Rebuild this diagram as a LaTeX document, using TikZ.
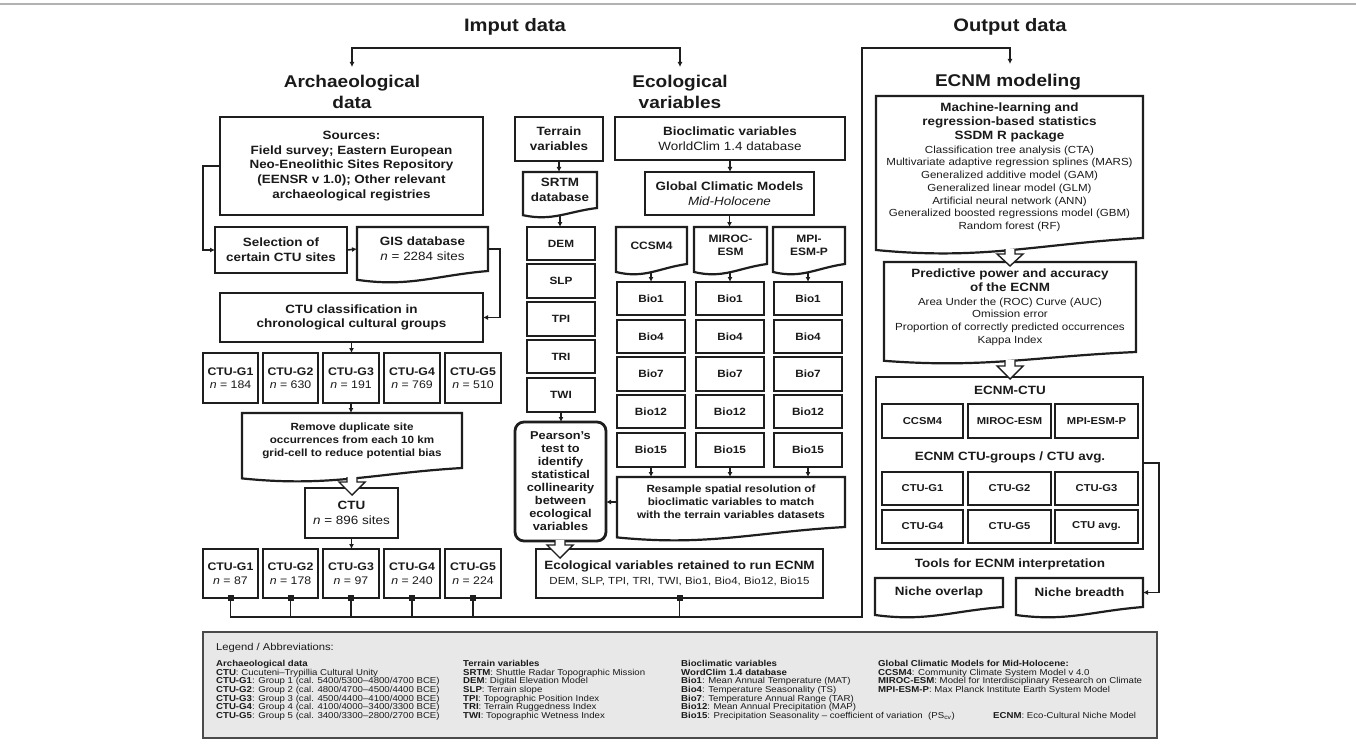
\documentclass[tikz,border=0pt]{standalone}
\usepackage{fontspec}
\setmainfont{Liberation Sans}[FakeStretch=1.12]
\usetikzlibrary{arrows.meta,calc}
\definecolor{lc}{HTML}{1E1E1E}
\definecolor{tc}{HTML}{1A1A1A}
\definecolor{legf}{HTML}{E8E8E8}
\definecolor{legb}{HTML}{4A4A4A}
\newcommand{\fttl}{\fontsize{17}{21}\selectfont\bfseries}
\newcommand{\fbig}{\fontsize{12}{14.7}\selectfont\bfseries}
\newcommand{\fszM}{\fontsize{11}{13.5}\selectfont\bfseries}
\newcommand{\fszS}{\fontsize{10.5}{12.5}\selectfont\bfseries}
\newcommand{\fszC}{\fontsize{10.7}{12.8}\selectfont\bfseries}
\newcommand{\fszI}{\fontsize{10}{12}\selectfont\bfseries}
\newcommand{\fszRem}{\fontsize{10.4}{13}\selectfont\bfseries}
\newcommand{\fszP}{\fontsize{11.4}{13}\selectfont\bfseries}
\newcommand{\fszR}{\fontsize{10.3}{12.7}\selectfont}
\newcommand{\fszL}{\fontsize{8.6}{8.7}\selectfont}
\newcommand{\bnode}[7][bx]{\node[#1, minimum width={(#4)-(#2)}, minimum height={(#5)-(#3)}] (#6) at ({((#2)+(#4))/2},{((#3)+(#5))/2}) {#7};}
\newcommand{\docshape}[2]{\draw[boxln] let \p1=(#1.north west), \p2=(#1.south east), \n1={\x2-\x1} in (\x1,\y1) -- (\x2,\y1) -- (\x2,\y2) .. controls ({\x1+0.6*\n1},{\y2-0.4*#2pt}) and ({\x1+0.4*\n1},{\y2-1.5*#2pt}) .. (\x1,{\y2-0.8*#2pt}) -- cycle;}
\newcommand{\harrow}[4]{\filldraw[line width=1.4pt, draw=lc, fill=white, line join=miter] ({#1-5},#2) -- ({#1-5},#3) -- ({#1-13},#3) -- (#1,#4) -- ({#1+13},#3) -- ({#1+5},#3) -- ({#1+5},#2);}
\tikzset{
  bx/.style={draw=lc, line width=2.2pt, inner sep=1pt, outer sep=0pt, align=center, text=tc, font=\fbig},
  dc/.style={inner sep=1pt, outer sep=0pt, align=center, text=tc, font=\fbig},
  pbox/.style={bx, rounded corners=9pt, line width=2.8pt, font=\fszP},
  boxln/.style={draw=lc, line width=2.2pt, line join=miter},
  ttl/.style={inner sep=0pt, align=center, text=tc, font=\fttl},
  hdr/.style={inner sep=0pt, align=center, text=tc, font=\fbig},
  ln/.style={draw=lc, line width=1.6pt},
  arr/.style={ln, -{Latex[length=5pt,width=5pt]}},
  sq/.style={fill=lc, minimum size=6pt, inner sep=0pt, outer sep=0pt},
  legt/.style={inner sep=0pt, anchor=north west, align=left, text=tc, font=\fszL},
}
\begin{document}
\begin{tikzpicture}[x=1pt,y=-1pt]
\useasboundingbox (0,0) rectangle (1356,746);
\fill[white] (0,0) rectangle (1356,746);
\draw[gray!60, line width=1.5pt] (0,4) -- (1356,4);

% ---------- titles
\node[ttl, font=\fontsize{18}{20}\selectfont\bfseries] (imputT) at (515,27) {Imput data};
\node[ttl, font=\fontsize{18}{20}\selectfont\bfseries] (outputT) at (1010,27) {Output data};
\node[ttl] (archT) at (352,92) {Archaeological\\data};
\node[ttl] (ecoT) at (680,92) {Ecological\\variables};
\node[ttl] (ecnmT) at (1008,82) {ECNM modeling};

\coordinate (brL) at (352,48);
\coordinate (brR) at (680,48);
\coordinate (archIn) at (352,67);
\coordinate (ecoIn) at (680,67);
\draw[ln, {Latex[length=5pt,width=5pt]}-{Latex[length=5pt,width=5pt]}] (archIn) -- (brL) -- (brR) -- (ecoIn);

% ---------- archaeological column
\bnode{220}{117}{483}{215}{src}{Sources:\\Field survey; Eastern European\\Neo-Eneolithic Sites Repository\\(EENSR v 1.0); Other relevant\\archaeological registries}
\bnode{215}{227}{347}{273}{sel}{Selection of\\certain CTU sites}
\bnode[dc]{357}{227}{488}{271}{gis}{GIS database\\{\mdseries\textit{n} = 2284 sites}}
\docshape{gis}{11}
\bnode{220}{293}{483}{342}{cls}{CTU classification in\\chronological cultural groups}
\bnode[bx,font=\fszM]{203}{353}{258}{403}{ga1}{CTU-G1\\{\mdseries\textit{n} = 184}}
\bnode[bx,font=\fszM]{263}{353}{318}{403}{ga2}{CTU-G2\\{\mdseries\textit{n} = 630}}
\bnode[bx,font=\fszM]{323}{353}{379}{403}{ga3}{CTU-G3\\{\mdseries\textit{n} = 191}}
\bnode[bx,font=\fszM]{384}{353}{440}{403}{ga4}{CTU-G4\\{\mdseries\textit{n} = 769}}
\bnode[bx,font=\fszM]{445}{353}{501}{403}{ga5}{CTU-G5\\{\mdseries\textit{n} = 510}}
\bnode[dc,font=\fszRem]{242}{413}{462}{468}{rem}{Remove duplicate site\\occurrences from each 10 km\\grid-cell to reduce potential bias}
\docshape{rem}{13}
\bnode{305}{488}{398}{538}{ctu}{CTU\\{\mdseries\textit{n} = 896 sites}}
\bnode[bx,font=\fszM]{203}{549}{258}{598}{gb1}{CTU-G1\\{\mdseries\textit{n} = 87}}
\bnode[bx,font=\fszM]{263}{549}{318}{598}{gb2}{CTU-G2\\{\mdseries\textit{n} = 178}}
\bnode[bx,font=\fszM]{323}{549}{379}{598}{gb3}{CTU-G3\\{\mdseries\textit{n} = 97}}
\bnode[bx,font=\fszM]{384}{549}{440}{598}{gb4}{CTU-G4\\{\mdseries\textit{n} = 240}}
\bnode[bx,font=\fszM]{445}{549}{501}{598}{gb5}{CTU-G5\\{\mdseries\textit{n} = 224}}

\draw[arr] (src.west) -- ++(-17,0) |- (sel.west);
\draw[arr] (sel.east) -- (gis.west);
\draw[arr] (gis.east) -- ++(12,0) |- (cls.east);
\draw[arr] (cls.south) -- (cls.south |- ga3.north);
\draw[arr] (ga3.south) -- (ga3.south |- rem.north);
\draw[arr] (ctu.south) -- (ctu.south |- gb3.north);

% ---------- ecological column: terrain
\bnode{515}{117}{603}{161}{ter}{Terrain\\variables}
\bnode[dc]{523}{172}{597}{208}{srtm}{SRTM\\database}
\docshape{srtm}{9}
\bnode[bx,font=\fszS]{527}{227}{595}{260}{dem}{DEM}
\bnode[bx,font=\fszS]{527}{264}{595}{298}{slp}{SLP}
\bnode[bx,font=\fszS]{527}{302}{595}{336}{tpi}{TPI}
\bnode[bx,font=\fszS]{527}{340}{595}{373}{tri}{TRI}
\bnode[bx,font=\fszS]{527}{378}{595}{412}{twi}{TWI}
\bnode[pbox]{515}{422}{606}{541}{pear}{Pearson's\\test to\\identify\\statistical\\collinearity\\between\\ecological\\variables}
\draw[arr] (ter.south) -- (ter.south |- srtm.north);
\draw[arr] ([yshift=-7pt]srtm.south) -- (srtm.south |- dem.north);
\draw[arr] (twi.south) -- (twi.south |- pear.north);

% ---------- bioclimatic
\bnode{615}{117}{845}{160}{bioc}{Bioclimatic variables\\{\mdseries WorldClim 1.4 database}}
\bnode{645}{172}{814}{215}{gcm}{Global Climatic Models\\{\mdseries\itshape Mid-Holocene}}
\bnode[dc,font=\fszC]{616}{227}{687}{264}{m1}{CCSM4}
\bnode[dc,font=\fszC]{694}{227}{767}{264}{m2}{MIROC-\\ESM}
\bnode[dc,font=\fszC]{773}{227}{845}{264}{m3}{MPI-\\ESM-P}
\docshape{m1}{10}
\docshape{m2}{10}
\docshape{m3}{10}
\draw[arr] (bioc.south) -- (bioc.south |- gcm.north);
\draw[arr] (gcm.south) -- (gcm.south |- m2.north);
\foreach \r/\lab/\ya/\yb in {1/Bio1/282/315, 2/Bio4/320/353, 3/Bio7/357/391, 4/Bio12/395/428, 5/Bio15/433/467}{
  \foreach \c/\xa/\xb in {1/617/685, 2/696/764, 3/774/842}{
    \bnode[bx,font=\fszS]{\xa}{\ya}{\xb}{\yb}{b\r\c}{\lab}
  }
}
\bnode[dc,font=\fszRem]{617}{477}{845}{527}{res}{Resample spatial resolution of\\bioclimatic variables to match\\with the terrain variables datasets}
\docshape{res}{13}
\foreach \c in {1,2,3}{
  \draw[arr] ([yshift=-8pt]m\c.south -| b1\c.north) -- (b1\c.north);
  \draw[arr] (b5\c.south) -- (b5\c.south |- res.north);
}
\draw[arr] (res.west) -- (res.west -| pear.east);
\bnode{536}{549}{823}{598}{eco}{Ecological variables retained to run ECNM\\{\mdseries\fszR DEM, SLP, TPI, TRI, TWI, Bio1, Bio4, Bio12, Bio15}}

% ---------- bus to output
\coordinate (busL) at (230,617);
\coordinate (busR) at (862,617);
\coordinate (topR) at (862,48);
\coordinate (topA) at (1010,48);
\coordinate (ecnmIn) at (1010,64);
\draw[arr] (busL) -- (busR) -- (topR) -- (topA) -- (ecnmIn);
\foreach \n in {gb1,gb2,gb3,gb4,gb5,eco}{
  \node[sq] (sq\n) at (\n.south) {};
  \draw[ln] (sq\n.center) -- (sq\n.center |- busL);
}

% ---------- output column
\bnode[dc,font=\fszR]{876}{96}{1143}{238}{ml}{{\fbig Machine-learning and}\\[1.5pt]{\fbig regression-based statistics}\\[1.5pt]{\fbig SSDM R package}\\[1pt]Classification tree analysis (CTA)\\Multivariate adaptive regression splines (MARS)\\Generalized additive model (GAM)\\Generalized linear model (GLM)\\Artificial neural network (ANN)\\Generalized boosted regressions model (GBM)\\Random forest (RF)}
\docshape{ml}{15}
\bnode[dc,font=\fszR]{884}{262}{1136}{352}{pred}{{\fbig Predictive power and accuracy}\\[1.5pt]{\fbig of the ECNM}\\[1pt]Area Under the (ROC) Curve (AUC)\\Omission error\\Proportion of correctly predicted occurrences\\Kappa Index}
\docshape{pred}{11}
\bnode{876}{377}{1143}{549}{cbox}{}
\node[hdr] (ectuT) at (1010,390) {ECNM-CTU};
\bnode[bx,font=\fszI]{882}{404}{963}{438}{c1}{CCSM4}
\bnode[bx,font=\fszI]{968}{404}{1051}{438}{c2}{MIROC-ESM}
\bnode[bx,font=\fszI]{1055}{404}{1138}{438}{c3}{MPI-ESM-P}
\node[hdr] (grpT) at (1010,457) {ECNM CTU-groups / CTU avg.};
\bnode[bx,font=\fszI]{882}{472}{963}{505}{e1}{CTU-G1}
\bnode[bx,font=\fszI]{968}{472}{1051}{505}{e2}{CTU-G2}
\bnode[bx,font=\fszI]{1055}{472}{1138}{505}{e3}{CTU-G3}
\bnode[bx,font=\fszI]{882}{510}{963}{543}{e4}{CTU-G4}
\bnode[bx,font=\fszI]{968}{510}{1051}{543}{e5}{CTU-G5}
\bnode[bx,font=\fszI]{1055}{510}{1138}{543}{e6}{CTU avg.}
\node[hdr] (toolsT) at (1010,564) {Tools for ECNM interpretation};
\bnode[dc]{875}{578}{1003}{607}{nov}{Niche overlap}
\docshape{nov}{10}
\bnode[dc]{1016}{578}{1143}{607}{nbr}{Niche breadth}
\docshape{nbr}{10}
\draw[arr] (cbox.east) -- ++(16,0) |- (nbr.east);

% ---------- hollow block arrows
\harrow{352}{477}{482}{495}
\harrow{560}{540}{545}{558}
\harrow{1010}{249}{254}{266}
\harrow{1010}{360}{366}{379}

% ---------- legend
\node[draw=legb, fill=legf, line width=2pt, minimum width=954, minimum height=106, inner sep=0pt] (leg) at (680,685) {};
\node[inner sep=0pt, anchor=west, text=tc, font=\fontsize{10}{11}\selectfont] (legT) at (216,648) {Legend / Abbreviations:};
\node[legt] (lc1) at (216,660) {\textbf{Archaeological data}\\\textbf{CTU}: Cucuteni–Trypillia Cultural Unity\\\textbf{CTU-G1}: Group 1 (cal. 5400/5300–4800/4700 BCE)\\\textbf{CTU-G2}: Group 2 (cal. 4800/4700–4500/4400 BCE)\\\textbf{CTU-G3}: Group 3 (cal. 4500/4400–4100/4000 BCE)\\\textbf{CTU-G4}: Group 4 (cal. 4100/4000–3400/3300 BCE)\\\textbf{CTU-G5}: Group 5 (cal. 3400/3300–2800/2700 BCE)};
\node[legt] (lc2) at (463,660) {\textbf{Terrain variables}\\\textbf{SRTM}: Shuttle Radar Topographic Mission\\\textbf{DEM}: Digital Elevation Model\\\textbf{SLP}: Terrain slope\\\textbf{TPI}: Topographic Position Index\\\textbf{TRI}: Terrain Ruggedness Index\\\textbf{TWI}: Topographic Wetness Index};
\node[legt] (lc3) at (681,660) {\textbf{Bioclimatic variables}\\\textbf{WordClim 1.4 database}\\\textbf{Bio1}: Mean Annual Temperature (MAT)\\\textbf{Bio4}: Temperature Seasonality (TS)\\\textbf{Bio7}: Temperature Annual Range (TAR)\\\textbf{Bio12}: Mean Annual Precipitation (MAP)\\\textbf{Bio15}: Precipitation Seasonality – coefficient of variation\ \ (PS\textsubscript{cv})};
\node[legt] (lc4) at (878,660) {\textbf{Global Climatic Models for Mid-Holocene:}\\\textbf{CCSM4}: Community Climate System Model v 4.0\\\textbf{MIROC-ESM}: Model for Interdisciplinary Research on Climate\\\textbf{MPI-ESM-P}: Max Planck Institute Earth System Model};
\node[legt, anchor=north west] (lc5) at (993,712.2) {\textbf{ECNM}: Eco-Cultural Niche Model};
\end{tikzpicture}
\end{document}
